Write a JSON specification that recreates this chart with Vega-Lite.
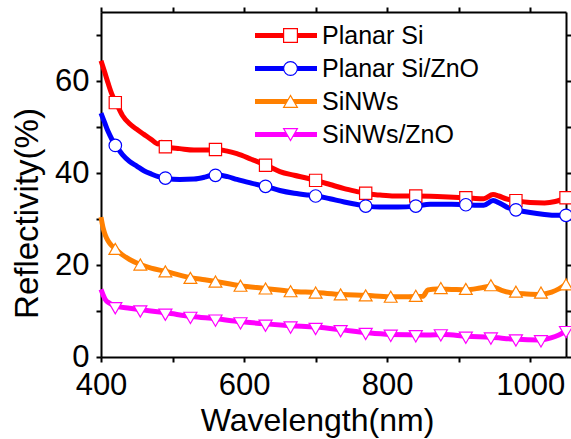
{
  "$schema": "https://vega.github.io/schema/vega-lite/v6.json",
  "width": 465,
  "height": 345,
  "autosize": {"type": "none"},
  "padding": {"left": 101, "top": 12, "right": 5, "bottom": 82},
  "background": "white",
  "config": {
    "view": {"stroke": null},
    "font": "Liberation Sans",
    "axis": {
      "domainColor": "black", "domainWidth": 2, "tickColor": "black", "tickWidth": 2, "tickSize": 5,
      "grid": false, "labelFont": "Liberation Sans", "labelColor": "black",
      "titleFont": "Liberation Sans", "titleFontWeight": "normal", "titleColor": "black"
    }
  },
  "datasets": {
    "lines": [
      {"series": "Planar Si", "wavelength": 400, "reflectivity": 64.4},
      {"series": "Planar Si", "wavelength": 405, "reflectivity": 62.0},
      {"series": "Planar Si", "wavelength": 410, "reflectivity": 59.5},
      {"series": "Planar Si", "wavelength": 415, "reflectivity": 57.2},
      {"series": "Planar Si", "wavelength": 422, "reflectivity": 55.0},
      {"series": "Planar Si", "wavelength": 430, "reflectivity": 52.5},
      {"series": "Planar Si", "wavelength": 440, "reflectivity": 50.7},
      {"series": "Planar Si", "wavelength": 450, "reflectivity": 49.5},
      {"series": "Planar Si", "wavelength": 460, "reflectivity": 48.4},
      {"series": "Planar Si", "wavelength": 470, "reflectivity": 47.3},
      {"series": "Planar Si", "wavelength": 480, "reflectivity": 46.3},
      {"series": "Planar Si", "wavelength": 485, "reflectivity": 46.7},
      {"series": "Planar Si", "wavelength": 492, "reflectivity": 45.6},
      {"series": "Planar Si", "wavelength": 510, "reflectivity": 45.3},
      {"series": "Planar Si", "wavelength": 530, "reflectivity": 45.0},
      {"series": "Planar Si", "wavelength": 550, "reflectivity": 45.0},
      {"series": "Planar Si", "wavelength": 562, "reflectivity": 45.1},
      {"series": "Planar Si", "wavelength": 575, "reflectivity": 44.8},
      {"series": "Planar Si", "wavelength": 590, "reflectivity": 44.2},
      {"series": "Planar Si", "wavelength": 610, "reflectivity": 43.0},
      {"series": "Planar Si", "wavelength": 632, "reflectivity": 41.6},
      {"series": "Planar Si", "wavelength": 650, "reflectivity": 40.3},
      {"series": "Planar Si", "wavelength": 670, "reflectivity": 39.5},
      {"series": "Planar Si", "wavelength": 690, "reflectivity": 38.8},
      {"series": "Planar Si", "wavelength": 702, "reflectivity": 38.3},
      {"series": "Planar Si", "wavelength": 720, "reflectivity": 37.5},
      {"series": "Planar Si", "wavelength": 740, "reflectivity": 36.6},
      {"series": "Planar Si", "wavelength": 760, "reflectivity": 35.9},
      {"series": "Planar Si", "wavelength": 772, "reflectivity": 35.5},
      {"series": "Planar Si", "wavelength": 790, "reflectivity": 35.2},
      {"series": "Planar Si", "wavelength": 810, "reflectivity": 35.0},
      {"series": "Planar Si", "wavelength": 840, "reflectivity": 35.0},
      {"series": "Planar Si", "wavelength": 870, "reflectivity": 34.9},
      {"series": "Planar Si", "wavelength": 900, "reflectivity": 34.7},
      {"series": "Planar Si", "wavelength": 920, "reflectivity": 34.5},
      {"series": "Planar Si", "wavelength": 935, "reflectivity": 34.4},
      {"series": "Planar Si", "wavelength": 948, "reflectivity": 35.3},
      {"series": "Planar Si", "wavelength": 956, "reflectivity": 35.0},
      {"series": "Planar Si", "wavelength": 966, "reflectivity": 34.4},
      {"series": "Planar Si", "wavelength": 980, "reflectivity": 34.0},
      {"series": "Planar Si", "wavelength": 1000, "reflectivity": 33.6},
      {"series": "Planar Si", "wavelength": 1020, "reflectivity": 33.5},
      {"series": "Planar Si", "wavelength": 1035, "reflectivity": 33.8},
      {"series": "Planar Si", "wavelength": 1050, "reflectivity": 34.6},

      {"series": "Planar Si/ZnO", "wavelength": 400, "reflectivity": 53.0},
      {"series": "Planar Si/ZnO", "wavelength": 405, "reflectivity": 51.0},
      {"series": "Planar Si/ZnO", "wavelength": 410, "reflectivity": 49.0},
      {"series": "Planar Si/ZnO", "wavelength": 415, "reflectivity": 47.4},
      {"series": "Planar Si/ZnO", "wavelength": 422, "reflectivity": 45.7},
      {"series": "Planar Si/ZnO", "wavelength": 430, "reflectivity": 44.0},
      {"series": "Planar Si/ZnO", "wavelength": 440, "reflectivity": 42.5},
      {"series": "Planar Si/ZnO", "wavelength": 450, "reflectivity": 41.5},
      {"series": "Planar Si/ZnO", "wavelength": 460, "reflectivity": 40.5},
      {"series": "Planar Si/ZnO", "wavelength": 470, "reflectivity": 39.8},
      {"series": "Planar Si/ZnO", "wavelength": 480, "reflectivity": 39.2},
      {"series": "Planar Si/ZnO", "wavelength": 492, "reflectivity": 38.8},
      {"series": "Planar Si/ZnO", "wavelength": 510, "reflectivity": 38.6},
      {"series": "Planar Si/ZnO", "wavelength": 530, "reflectivity": 38.7},
      {"series": "Planar Si/ZnO", "wavelength": 545, "reflectivity": 39.1},
      {"series": "Planar Si/ZnO", "wavelength": 555, "reflectivity": 39.5},
      {"series": "Planar Si/ZnO", "wavelength": 565, "reflectivity": 39.5},
      {"series": "Planar Si/ZnO", "wavelength": 577, "reflectivity": 39.2},
      {"series": "Planar Si/ZnO", "wavelength": 590, "reflectivity": 38.6},
      {"series": "Planar Si/ZnO", "wavelength": 610, "reflectivity": 37.8},
      {"series": "Planar Si/ZnO", "wavelength": 632, "reflectivity": 37.0},
      {"series": "Planar Si/ZnO", "wavelength": 650, "reflectivity": 36.2},
      {"series": "Planar Si/ZnO", "wavelength": 670, "reflectivity": 35.6},
      {"series": "Planar Si/ZnO", "wavelength": 690, "reflectivity": 35.2},
      {"series": "Planar Si/ZnO", "wavelength": 702, "reflectivity": 35.0},
      {"series": "Planar Si/ZnO", "wavelength": 720, "reflectivity": 34.4},
      {"series": "Planar Si/ZnO", "wavelength": 740, "reflectivity": 33.7},
      {"series": "Planar Si/ZnO", "wavelength": 760, "reflectivity": 33.1},
      {"series": "Planar Si/ZnO", "wavelength": 772, "reflectivity": 32.8},
      {"series": "Planar Si/ZnO", "wavelength": 790, "reflectivity": 32.6},
      {"series": "Planar Si/ZnO", "wavelength": 815, "reflectivity": 32.6},
      {"series": "Planar Si/ZnO", "wavelength": 840, "reflectivity": 32.8},
      {"series": "Planar Si/ZnO", "wavelength": 860, "reflectivity": 33.2},
      {"series": "Planar Si/ZnO", "wavelength": 890, "reflectivity": 33.2},
      {"series": "Planar Si/ZnO", "wavelength": 910, "reflectivity": 33.1},
      {"series": "Planar Si/ZnO", "wavelength": 935, "reflectivity": 33.0},
      {"series": "Planar Si/ZnO", "wavelength": 948, "reflectivity": 34.0},
      {"series": "Planar Si/ZnO", "wavelength": 958, "reflectivity": 33.4},
      {"series": "Planar Si/ZnO", "wavelength": 970, "reflectivity": 32.4},
      {"series": "Planar Si/ZnO", "wavelength": 980, "reflectivity": 32.0},
      {"series": "Planar Si/ZnO", "wavelength": 1000, "reflectivity": 31.4},
      {"series": "Planar Si/ZnO", "wavelength": 1020, "reflectivity": 31.0},
      {"series": "Planar Si/ZnO", "wavelength": 1035, "reflectivity": 30.8},
      {"series": "Planar Si/ZnO", "wavelength": 1050, "reflectivity": 30.8},

      {"series": "SiNWs", "wavelength": 400, "reflectivity": 30.4},
      {"series": "SiNWs", "wavelength": 403, "reflectivity": 28.0},
      {"series": "SiNWs", "wavelength": 406, "reflectivity": 26.5},
      {"series": "SiNWs", "wavelength": 410, "reflectivity": 25.2},
      {"series": "SiNWs", "wavelength": 415, "reflectivity": 24.2},
      {"series": "SiNWs", "wavelength": 421, "reflectivity": 23.4},
      {"series": "SiNWs", "wavelength": 430, "reflectivity": 22.2},
      {"series": "SiNWs", "wavelength": 440, "reflectivity": 21.2},
      {"series": "SiNWs", "wavelength": 455, "reflectivity": 20.1},
      {"series": "SiNWs", "wavelength": 470, "reflectivity": 19.3},
      {"series": "SiNWs", "wavelength": 491, "reflectivity": 18.6},
      {"series": "SiNWs", "wavelength": 510, "reflectivity": 17.8},
      {"series": "SiNWs", "wavelength": 527, "reflectivity": 17.2},
      {"series": "SiNWs", "wavelength": 545, "reflectivity": 16.8},
      {"series": "SiNWs", "wavelength": 561, "reflectivity": 16.4},
      {"series": "SiNWs", "wavelength": 594, "reflectivity": 15.5},
      {"series": "SiNWs", "wavelength": 630, "reflectivity": 14.9},
      {"series": "SiNWs", "wavelength": 665, "reflectivity": 14.3},
      {"series": "SiNWs", "wavelength": 700, "reflectivity": 14.0},
      {"series": "SiNWs", "wavelength": 737, "reflectivity": 13.6},
      {"series": "SiNWs", "wavelength": 770, "reflectivity": 13.4},
      {"series": "SiNWs", "wavelength": 804, "reflectivity": 13.1},
      {"series": "SiNWs", "wavelength": 830, "reflectivity": 13.1},
      {"series": "SiNWs", "wavelength": 850, "reflectivity": 13.2},
      {"series": "SiNWs", "wavelength": 857, "reflectivity": 14.6},
      {"series": "SiNWs", "wavelength": 870, "reflectivity": 14.8},
      {"series": "SiNWs", "wavelength": 890, "reflectivity": 14.7},
      {"series": "SiNWs", "wavelength": 911, "reflectivity": 14.6},
      {"series": "SiNWs", "wavelength": 930, "reflectivity": 15.0},
      {"series": "SiNWs", "wavelength": 945, "reflectivity": 15.4},
      {"series": "SiNWs", "wavelength": 960, "reflectivity": 14.5},
      {"series": "SiNWs", "wavelength": 976, "reflectivity": 13.9},
      {"series": "SiNWs", "wavelength": 995, "reflectivity": 13.7},
      {"series": "SiNWs", "wavelength": 1014, "reflectivity": 13.6},
      {"series": "SiNWs", "wavelength": 1030, "reflectivity": 14.1},
      {"series": "SiNWs", "wavelength": 1040, "reflectivity": 14.8},
      {"series": "SiNWs", "wavelength": 1050, "reflectivity": 15.8},

      {"series": "SiNWs/ZnO", "wavelength": 400, "reflectivity": 14.7},
      {"series": "SiNWs/ZnO", "wavelength": 403, "reflectivity": 13.5},
      {"series": "SiNWs/ZnO", "wavelength": 406, "reflectivity": 12.5},
      {"series": "SiNWs/ZnO", "wavelength": 412, "reflectivity": 11.7},
      {"series": "SiNWs/ZnO", "wavelength": 422, "reflectivity": 11.0},
      {"series": "SiNWs/ZnO", "wavelength": 440, "reflectivity": 10.6},
      {"series": "SiNWs/ZnO", "wavelength": 455, "reflectivity": 10.3},
      {"series": "SiNWs/ZnO", "wavelength": 491, "reflectivity": 9.6},
      {"series": "SiNWs/ZnO", "wavelength": 527, "reflectivity": 8.8},
      {"series": "SiNWs/ZnO", "wavelength": 561, "reflectivity": 8.3},
      {"series": "SiNWs/ZnO", "wavelength": 594, "reflectivity": 7.7},
      {"series": "SiNWs/ZnO", "wavelength": 630, "reflectivity": 7.2},
      {"series": "SiNWs/ZnO", "wavelength": 665, "reflectivity": 6.8},
      {"series": "SiNWs/ZnO", "wavelength": 700, "reflectivity": 6.5},
      {"series": "SiNWs/ZnO", "wavelength": 737, "reflectivity": 5.9},
      {"series": "SiNWs/ZnO", "wavelength": 770, "reflectivity": 5.3},
      {"series": "SiNWs/ZnO", "wavelength": 804, "reflectivity": 4.9},
      {"series": "SiNWs/ZnO", "wavelength": 855, "reflectivity": 4.8},
      {"series": "SiNWs/ZnO", "wavelength": 880, "reflectivity": 4.9},
      {"series": "SiNWs/ZnO", "wavelength": 911, "reflectivity": 4.5},
      {"series": "SiNWs/ZnO", "wavelength": 945, "reflectivity": 4.3},
      {"series": "SiNWs/ZnO", "wavelength": 976, "reflectivity": 3.9},
      {"series": "SiNWs/ZnO", "wavelength": 1014, "reflectivity": 3.7},
      {"series": "SiNWs/ZnO", "wavelength": 1030, "reflectivity": 4.2},
      {"series": "SiNWs/ZnO", "wavelength": 1040, "reflectivity": 4.8},
      {"series": "SiNWs/ZnO", "wavelength": 1050, "reflectivity": 5.6}
    ],
    "markers": [
      {"sample": "Planar Si", "wavelength": 420, "reflectivity": 55.3},
      {"sample": "Planar Si", "wavelength": 490, "reflectivity": 45.7},
      {"sample": "Planar Si", "wavelength": 560, "reflectivity": 45.1},
      {"sample": "Planar Si", "wavelength": 630, "reflectivity": 41.7},
      {"sample": "Planar Si", "wavelength": 700, "reflectivity": 38.4},
      {"sample": "Planar Si", "wavelength": 770, "reflectivity": 35.6},
      {"sample": "Planar Si", "wavelength": 840, "reflectivity": 35.0},
      {"sample": "Planar Si", "wavelength": 910, "reflectivity": 34.6},
      {"sample": "Planar Si", "wavelength": 980, "reflectivity": 34.0},
      {"sample": "Planar Si", "wavelength": 1050, "reflectivity": 34.6},
      {"sample": "Planar Si/ZnO", "wavelength": 420, "reflectivity": 46.0},
      {"sample": "Planar Si/ZnO", "wavelength": 490, "reflectivity": 38.9},
      {"sample": "Planar Si/ZnO", "wavelength": 560, "reflectivity": 39.5},
      {"sample": "Planar Si/ZnO", "wavelength": 630, "reflectivity": 37.1},
      {"sample": "Planar Si/ZnO", "wavelength": 700, "reflectivity": 35.0},
      {"sample": "Planar Si/ZnO", "wavelength": 770, "reflectivity": 32.8},
      {"sample": "Planar Si/ZnO", "wavelength": 840, "reflectivity": 32.8},
      {"sample": "Planar Si/ZnO", "wavelength": 910, "reflectivity": 33.1},
      {"sample": "Planar Si/ZnO", "wavelength": 980, "reflectivity": 32.0},
      {"sample": "Planar Si/ZnO", "wavelength": 1050, "reflectivity": 30.8},
      {"sample": "SiNWs", "wavelength": 420, "reflectivity": 23.5},
      {"sample": "SiNWs", "wavelength": 455, "reflectivity": 20.1},
      {"sample": "SiNWs", "wavelength": 490, "reflectivity": 18.6},
      {"sample": "SiNWs", "wavelength": 525, "reflectivity": 17.2},
      {"sample": "SiNWs", "wavelength": 560, "reflectivity": 16.4},
      {"sample": "SiNWs", "wavelength": 595, "reflectivity": 15.5},
      {"sample": "SiNWs", "wavelength": 630, "reflectivity": 14.9},
      {"sample": "SiNWs", "wavelength": 665, "reflectivity": 14.3},
      {"sample": "SiNWs", "wavelength": 700, "reflectivity": 14.0},
      {"sample": "SiNWs", "wavelength": 735, "reflectivity": 13.6},
      {"sample": "SiNWs", "wavelength": 770, "reflectivity": 13.4},
      {"sample": "SiNWs", "wavelength": 805, "reflectivity": 13.1},
      {"sample": "SiNWs", "wavelength": 840, "reflectivity": 13.3},
      {"sample": "SiNWs", "wavelength": 875, "reflectivity": 15.0},
      {"sample": "SiNWs", "wavelength": 910, "reflectivity": 14.8},
      {"sample": "SiNWs", "wavelength": 945, "reflectivity": 15.6},
      {"sample": "SiNWs", "wavelength": 980, "reflectivity": 14.2},
      {"sample": "SiNWs", "wavelength": 1015, "reflectivity": 14.0},
      {"sample": "SiNWs", "wavelength": 1050, "reflectivity": 15.8},
      {"sample": "SiNWs/ZnO", "wavelength": 420, "reflectivity": 10.6},
      {"sample": "SiNWs/ZnO", "wavelength": 455, "reflectivity": 9.9},
      {"sample": "SiNWs/ZnO", "wavelength": 490, "reflectivity": 9.2},
      {"sample": "SiNWs/ZnO", "wavelength": 525, "reflectivity": 8.5},
      {"sample": "SiNWs/ZnO", "wavelength": 560, "reflectivity": 7.9},
      {"sample": "SiNWs/ZnO", "wavelength": 595, "reflectivity": 7.3},
      {"sample": "SiNWs/ZnO", "wavelength": 630, "reflectivity": 6.8},
      {"sample": "SiNWs/ZnO", "wavelength": 665, "reflectivity": 6.4},
      {"sample": "SiNWs/ZnO", "wavelength": 700, "reflectivity": 6.1},
      {"sample": "SiNWs/ZnO", "wavelength": 735, "reflectivity": 5.6},
      {"sample": "SiNWs/ZnO", "wavelength": 770, "reflectivity": 5.0},
      {"sample": "SiNWs/ZnO", "wavelength": 805, "reflectivity": 4.6},
      {"sample": "SiNWs/ZnO", "wavelength": 840, "reflectivity": 4.5},
      {"sample": "SiNWs/ZnO", "wavelength": 875, "reflectivity": 4.7},
      {"sample": "SiNWs/ZnO", "wavelength": 910, "reflectivity": 4.2},
      {"sample": "SiNWs/ZnO", "wavelength": 945, "reflectivity": 4.0},
      {"sample": "SiNWs/ZnO", "wavelength": 980, "reflectivity": 3.6},
      {"sample": "SiNWs/ZnO", "wavelength": 1015, "reflectivity": 3.4},
      {"sample": "SiNWs/ZnO", "wavelength": 1050, "reflectivity": 5.4}
    ]
  },
  "layer": [
    {
      "data": {"name": "lines"},
      "mark": {"type": "line", "strokeWidth": 5, "interpolate": "monotone"},
      "encoding": {
        "x": {
          "field": "wavelength", "type": "quantitative",
          "scale": {"domain": [400, 1050], "nice": false, "zero": false},
          "axis": {
            "orient": "bottom",
            "values": [400, 500, 600, 700, 800, 900, 1000],
            "format": "d",
            "labelExpr": "datum.value % 200 == 0 ? datum.label : ''",
            "labelFontSize": 31, "labelPadding": 8, "labelFlush": false, "labelOverlap": false,
            "title": "Wavelength(nm)", "titleFontSize": 32, "titleBaseline": "alphabetic", "titleY": 73, "titleX": 216
          }
        },
        "y": {
          "field": "reflectivity", "type": "quantitative",
          "scale": {"domain": [0, 75], "nice": false},
          "axis": {
            "orient": "left",
            "values": [0, 10, 20, 30, 40, 50, 60, 70],
            "labelExpr": "datum.value % 20 == 0 ? datum.label : ''",
            "labelFontSize": 31, "labelPadding": 7, "labelFlush": false, "labelOverlap": false,
            "title": "Reflectivity(%)", "titleFontSize": 33, "titleBaseline": "alphabetic",
            "titleX": -64, "titleY": 201
          }
        },
        "color": {
          "field": "series", "type": "nominal",
          "sort": ["Planar Si", "Planar Si/ZnO", "SiNWs", "SiNWs/ZnO"],
          "scale": {"range": ["#ff0000", "#0000ff", "#ff8000", "#ff00ff"]},
          "legend": {
            "orient": "none", "legendX": 151.5, "legendY": 11, "title": null, "padding": 0, "zindex": 1,
            "symbolType": "stroke", "symbolStrokeWidth": 5, "symbolSize": 3844, "clipHeight": 25,
            "labelFontSize": 25, "labelFont": "Liberation Sans", "labelColor": "black", "labelOffset": 2.5, "rowPadding": 7
          }
        }
      }
    },
    {
      "data": {"name": "markers"},
      "mark": {"type": "point", "filled": true, "fill": "white", "strokeWidth": 1.2, "opacity": 1},
      "encoding": {
        "x": {
          "field": "wavelength", "type": "quantitative",
          "axis": {"orient": "top", "values": [400, 500, 600, 700, 800, 900, 1000], "labels": false, "title": null}
        },
        "y": {
          "field": "reflectivity", "type": "quantitative",
          "axis": {"orient": "right", "values": [0, 10, 20, 30, 40, 50, 60, 70], "labels": false, "title": null}
        },
        "stroke": {
          "field": "sample", "type": "nominal",
          "sort": ["Planar Si", "Planar Si/ZnO", "SiNWs", "SiNWs/ZnO"],
          "scale": {"range": ["#ff0000", "#0000ff", "#ff8000", "#ff00ff"]},
          "legend": {
            "orient": "none", "legendX": 177, "legendY": 11, "title": null, "padding": 0, "zindex": 5,
            "symbolType": {"expr": "scale('shape', datum.value)"},
            "symbolFillColor": "white", "symbolStrokeWidth": 1.2, "symbolSize": 190, "clipHeight": 25,
            "labelFontSize": 25, "labelExpr": "''", "rowPadding": 7
          }
        },
        "shape": {
          "field": "sample", "type": "nominal",
          "sort": ["Planar Si", "Planar Si/ZnO", "SiNWs", "SiNWs/ZnO"],
          "scale": {"range": ["square", "circle", "triangle-up", "triangle-down"]},
          "legend": null
        },
        "size": {
          "field": "sample", "type": "ordinal",
          "sort": ["Planar Si", "Planar Si/ZnO", "SiNWs", "SiNWs/ZnO"],
          "scale": {"range": [150, 170, 220, 220]},
          "legend": null
        }
      }
    }
  ]
}
